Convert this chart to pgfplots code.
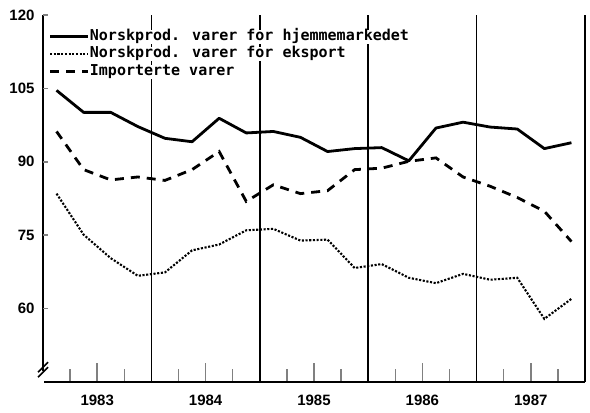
\documentclass[border=0pt]{standalone}
\usepackage{pgfplots}
\pgfplotsset{compat=1.18}
\usepackage{fontspec}
\setmainfont{Liberation Sans}
\newfontfamily\legfont{DejaVu Sans Mono}
\begin{document}
\begin{tikzpicture}
\useasboundingbox (-43pt,-31pt) rectangle (547pt,382pt);
\begin{axis}[
  at={(0pt,0pt)}, anchor=south west,
  scale only axis,
  width=542pt, height=367pt,
  xmin=0, xmax=5,
  ymin=45, ymax=120,
  axis x line*=bottom,
  axis y line*=left,
  axis line style={line width=1.9pt},
  tick align=inside,
  major tick length=19pt,
  minor tick length=13pt,
  ytick=\empty,
  extra y ticks={60,75,90,105,120},
  extra y tick style={major tick length=5pt, tick style={line width=1.6pt}},
  xtick={0.5,1.5,2.5,3.5,4.5},
  xticklabels={1983,1984,1985,1986,1987},
  minor xtick={0.25,0.75,1.25,1.75,2.25,2.75,3.25,3.75,4.25,4.75},
  xtick style={line width=1.5pt},
  extra x ticks={1,2,3,4,5},
  extra x tick labels={},
  extra x tick style={grid=major, major grid style={black, line width=1.6pt}, major tick length=0pt},
  /pgf/number format/assume math mode=true,
  ticklabel style={font=\bfseries\fontsize{15}{17}\selectfont},
  yticklabel style={xshift=-5pt},
  xticklabel style={yshift=-9pt},
  legend style={at={(rel axis cs:0.01,0.96)}, anchor=north west, draw=none, fill=none,
    font=\legfont\bfseries\fontsize{15}{17}\selectfont,
    cells={anchor=west}, inner sep=0pt, row sep=3.5pt, column sep=0pt,
    nodes={inner sep=0.5pt, fill=white, text height=10pt, text depth=3pt}},
  legend image code/.code={\draw[#1] (0pt,0pt) -- (38pt,0pt);},
  clip=false,
]
\addplot[black, line width=2.8pt, line join=round] coordinates {
(0.125,104.6) (0.375,100.1) (0.625,100.1) (0.875,97.2)
(1.125,94.8) (1.375,94.1) (1.625,98.9) (1.875,95.9)
(2.125,96.2) (2.375,95.0) (2.625,92.1) (2.875,92.7)
(3.125,92.9) (3.375,90.2) (3.625,96.9) (3.875,98.1)
(4.125,97.1) (4.375,96.7) (4.625,92.7) (4.875,93.9)};
\addlegendentry{Norskprod. varer for hjemmemarkedet}
\addplot[black, line width=2.1pt, line cap=butt, dash pattern=on 2.1pt off 1.6pt] coordinates {
(0.125,83.5) (0.375,75.1) (0.625,70.3) (0.875,66.7)
(1.125,67.4) (1.375,71.9) (1.625,73.1) (1.875,76.0)
(2.125,76.3) (2.375,73.9) (2.625,74.1) (2.875,68.3)
(3.125,69.1) (3.375,66.3) (3.625,65.2) (3.875,67.1)
(4.125,65.9) (4.375,66.3) (4.625,57.9) (4.875,62.0)};
\addlegendentry{Norskprod. varer for eksport}
\addplot[black, line width=2.8pt, dash pattern=on 9pt off 7pt] coordinates {
(0.125,96.2) (0.375,88.4) (0.625,86.3) (0.875,86.9)
(1.125,86.2) (1.375,88.4) (1.625,92.1) (1.875,81.9)
(2.125,85.3) (2.375,83.5) (2.625,84.1) (2.875,88.4)
(3.125,88.7) (3.375,90.1) (3.625,90.8) (3.875,86.9)
(4.125,85.0) (4.375,82.7) (4.625,79.9) (4.875,73.7)};
\addlegendentry{Importerte varer}
\draw[white, line width=3pt] (axis cs:0,47.2) -- ++(0,6pt);
\draw[black, line width=1.5pt] (axis cs:0,47.2) ++(-5pt,-6pt) -- ++(10pt,10pt);
\draw[black, line width=1.5pt] (axis cs:0,47.2) ++(-5pt,-1pt) -- ++(10pt,10pt);
\end{axis}
\end{tikzpicture}
\end{document}
